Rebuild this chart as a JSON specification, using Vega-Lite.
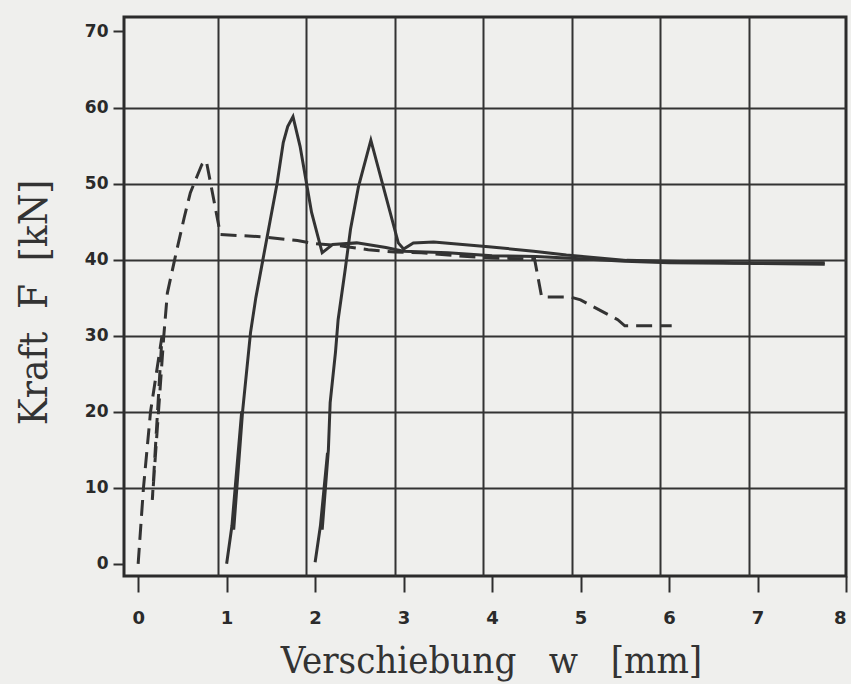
{
  "$schema": "https://vega.github.io/schema/vega-lite/v6.json",
  "width": 722,
  "height": 559,
  "autosize": {"type": "none"},
  "padding": {"left": 124, "top": 17, "right": 5, "bottom": 108},
  "background": "#efefed",
  "config": {
    "view": {"stroke": "#2b2b2b", "strokeWidth": 3},
    "axis": {
      "labelFont": "DejaVu Sans",
      "labelFontWeight": "bold",
      "labelColor": "#2a2a2a",
      "titleFont": "DejaVu Serif Condensed, DejaVu Serif",
      "titleFontWeight": "normal",
      "titleColor": "#333333",
      "tickColor": "#2e2e2e",
      "gridColor": "#333333",
      "domain": false
    }
  },
  "data": {
    "values": [
      {"s": "A", "seq": 1, "w": 0.0, "F": 0.0},
      {"s": "A", "seq": 2, "w": 0.06, "F": 10.0},
      {"s": "A", "seq": 3, "w": 0.14, "F": 20.0},
      {"s": "A", "seq": 4, "w": 0.27, "F": 30.0},
      {"s": "A", "seq": 5, "w": 0.16, "F": 8.4},
      {"s": "A", "seq": 6, "w": 0.29, "F": 30.0},
      {"s": "A", "seq": 7, "w": 0.33, "F": 35.6},
      {"s": "A", "seq": 8, "w": 0.42, "F": 40.4},
      {"s": "A", "seq": 9, "w": 0.52, "F": 45.5},
      {"s": "A", "seq": 10, "w": 0.59, "F": 48.8},
      {"s": "A", "seq": 11, "w": 0.66, "F": 50.8},
      {"s": "A", "seq": 12, "w": 0.72, "F": 52.5},
      {"s": "A", "seq": 13, "w": 0.77, "F": 53.0},
      {"s": "A", "seq": 14, "w": 0.93, "F": 43.3},
      {"s": "A", "seq": 15, "w": 1.4, "F": 43.0},
      {"s": "A", "seq": 16, "w": 1.8, "F": 42.5},
      {"s": "A", "seq": 17, "w": 2.0, "F": 42.1},
      {"s": "A", "seq": 18, "w": 2.3, "F": 41.8},
      {"s": "A", "seq": 19, "w": 2.6, "F": 41.3},
      {"s": "A", "seq": 20, "w": 2.9, "F": 41.0},
      {"s": "A", "seq": 21, "w": 3.2, "F": 40.9},
      {"s": "A", "seq": 22, "w": 3.6, "F": 40.5},
      {"s": "A", "seq": 23, "w": 4.0, "F": 40.2},
      {"s": "A", "seq": 24, "w": 4.48, "F": 40.1},
      {"s": "A", "seq": 25, "w": 4.56, "F": 35.1},
      {"s": "A", "seq": 26, "w": 4.88, "F": 35.1},
      {"s": "A", "seq": 27, "w": 5.0, "F": 34.7},
      {"s": "A", "seq": 28, "w": 5.42, "F": 32.1},
      {"s": "A", "seq": 29, "w": 5.5, "F": 31.3},
      {"s": "A", "seq": 30, "w": 6.03, "F": 31.3},

      {"s": "B", "seq": 1, "w": 1.0, "F": 0.0},
      {"s": "B", "seq": 2, "w": 1.06, "F": 5.0},
      {"s": "B", "seq": 3, "w": 1.17, "F": 20.0},
      {"s": "B", "seq": 4, "w": 1.08, "F": 4.5},
      {"s": "B", "seq": 5, "w": 1.18, "F": 20.0},
      {"s": "B", "seq": 6, "w": 1.27, "F": 30.4},
      {"s": "B", "seq": 7, "w": 1.33, "F": 35.0},
      {"s": "B", "seq": 8, "w": 1.41, "F": 40.0},
      {"s": "B", "seq": 9, "w": 1.49, "F": 45.0},
      {"s": "B", "seq": 10, "w": 1.57, "F": 50.0},
      {"s": "B", "seq": 11, "w": 1.64, "F": 55.4},
      {"s": "B", "seq": 12, "w": 1.69, "F": 57.5},
      {"s": "B", "seq": 13, "w": 1.75, "F": 58.8},
      {"s": "B", "seq": 14, "w": 1.83, "F": 54.9},
      {"s": "B", "seq": 15, "w": 1.96, "F": 46.2},
      {"s": "B", "seq": 16, "w": 2.08, "F": 40.9},
      {"s": "B", "seq": 17, "w": 2.2, "F": 42.0},
      {"s": "B", "seq": 18, "w": 2.47, "F": 42.2},
      {"s": "B", "seq": 19, "w": 2.8, "F": 41.6},
      {"s": "B", "seq": 20, "w": 3.0, "F": 41.1},
      {"s": "B", "seq": 21, "w": 3.5, "F": 40.9},
      {"s": "B", "seq": 22, "w": 4.0, "F": 40.5},
      {"s": "B", "seq": 23, "w": 4.5, "F": 40.4},
      {"s": "B", "seq": 24, "w": 5.0, "F": 40.1},
      {"s": "B", "seq": 25, "w": 5.5, "F": 39.8},
      {"s": "B", "seq": 26, "w": 6.0, "F": 39.6},
      {"s": "B", "seq": 27, "w": 7.0, "F": 39.5},
      {"s": "B", "seq": 28, "w": 7.76, "F": 39.4},

      {"s": "C", "seq": 1, "w": 2.0, "F": 0.2},
      {"s": "C", "seq": 2, "w": 2.06, "F": 5.0},
      {"s": "C", "seq": 3, "w": 2.14, "F": 14.6},
      {"s": "C", "seq": 4, "w": 2.08, "F": 4.5},
      {"s": "C", "seq": 5, "w": 2.15, "F": 15.0},
      {"s": "C", "seq": 6, "w": 2.17, "F": 21.2},
      {"s": "C", "seq": 7, "w": 2.23, "F": 27.8},
      {"s": "C", "seq": 8, "w": 2.26, "F": 32.1},
      {"s": "C", "seq": 9, "w": 2.34, "F": 38.7},
      {"s": "C", "seq": 10, "w": 2.4, "F": 44.0},
      {"s": "C", "seq": 11, "w": 2.49, "F": 49.6},
      {"s": "C", "seq": 12, "w": 2.63, "F": 55.7},
      {"s": "C", "seq": 13, "w": 2.94, "F": 42.2},
      {"s": "C", "seq": 14, "w": 3.0, "F": 41.4},
      {"s": "C", "seq": 15, "w": 3.11, "F": 42.2},
      {"s": "C", "seq": 16, "w": 3.34, "F": 42.3},
      {"s": "C", "seq": 17, "w": 3.96, "F": 41.7},
      {"s": "C", "seq": 18, "w": 4.47, "F": 41.1},
      {"s": "C", "seq": 19, "w": 4.84, "F": 40.6},
      {"s": "C", "seq": 20, "w": 5.52, "F": 39.9},
      {"s": "C", "seq": 21, "w": 6.73, "F": 39.6},
      {"s": "C", "seq": 22, "w": 7.76, "F": 39.6}
    ]
  },
  "encoding": {
    "y": {
      "field": "F",
      "type": "quantitative",
      "scale": {"domain": [-1.6, 71.9], "nice": false, "zero": false},
      "axis": {
        "values": [0, 10, 20, 30, 40, 50, 60, 70],
        "grid": true,
        "gridWidth": 2,
        "gridOpacity": {"condition": {"test": "datum.value == 0 || datum.value == 70", "value": 0}, "value": 1},
        "tickSize": 11,
        "tickWidth": 2,
        "labelFontSize": 17,
        "labelPadding": 5,
        "title": "Kraft\u00a0\u00a0F\u00a0\u00a0[kN]",
        "titleFontSize": 40,
        "titleAngle": -90,
        "titleX": -78,
        "titleY": 285,
        "titleAlign": "center",
        "titleBaseline": "alphabetic"
      }
    }
  },
  "layer": [
    {
      "transform": [{"filter": "datum.s != 'A'"}],
      "mark": {"type": "line", "color": "#333333", "strokeWidth": 3},
      "encoding": {
        "x": {
          "field": "w",
          "type": "quantitative",
          "scale": {"domain": [-0.16, 8], "nice": false, "zero": false},
          "axis": {
            "orient": "bottom",
            "values": [0, 1, 2, 3, 4, 5, 6, 7, 8],
            "grid": false,
            "tickSize": 16,
            "tickWidth": 2,
            "labelFontSize": 18,
            "labelPadding": 17,
            "title": "Verschiebung\u00a0\u00a0\u00a0w\u00a0\u00a0\u00a0[mm]",
            "titleFontSize": 38,
            "titleX": 367,
            "titleY": 96,
            "titleAlign": "center",
            "titleBaseline": "alphabetic"
          }
        },
        "detail": {"field": "s"},
        "order": {"field": "seq"}
      }
    },
    {
      "transform": [{"filter": "datum.s == 'A'"}],
      "mark": {"type": "line", "color": "#333333", "strokeWidth": 3, "strokeDash": [16, 8]},
      "encoding": {
        "x": {
          "field": "w",
          "type": "quantitative",
          "axis": {
            "orient": "top",
            "values": [1, 2, 3, 4, 5, 6, 7],
            "grid": true,
            "gridWidth": 2,
            "tickOffset": -8.85,
            "labels": false,
            "ticks": false,
            "domain": false,
            "title": null
          }
        },
        "order": {"field": "seq"}
      }
    }
  ],
  "resolve": {"axis": {"x": "independent"}}
}
